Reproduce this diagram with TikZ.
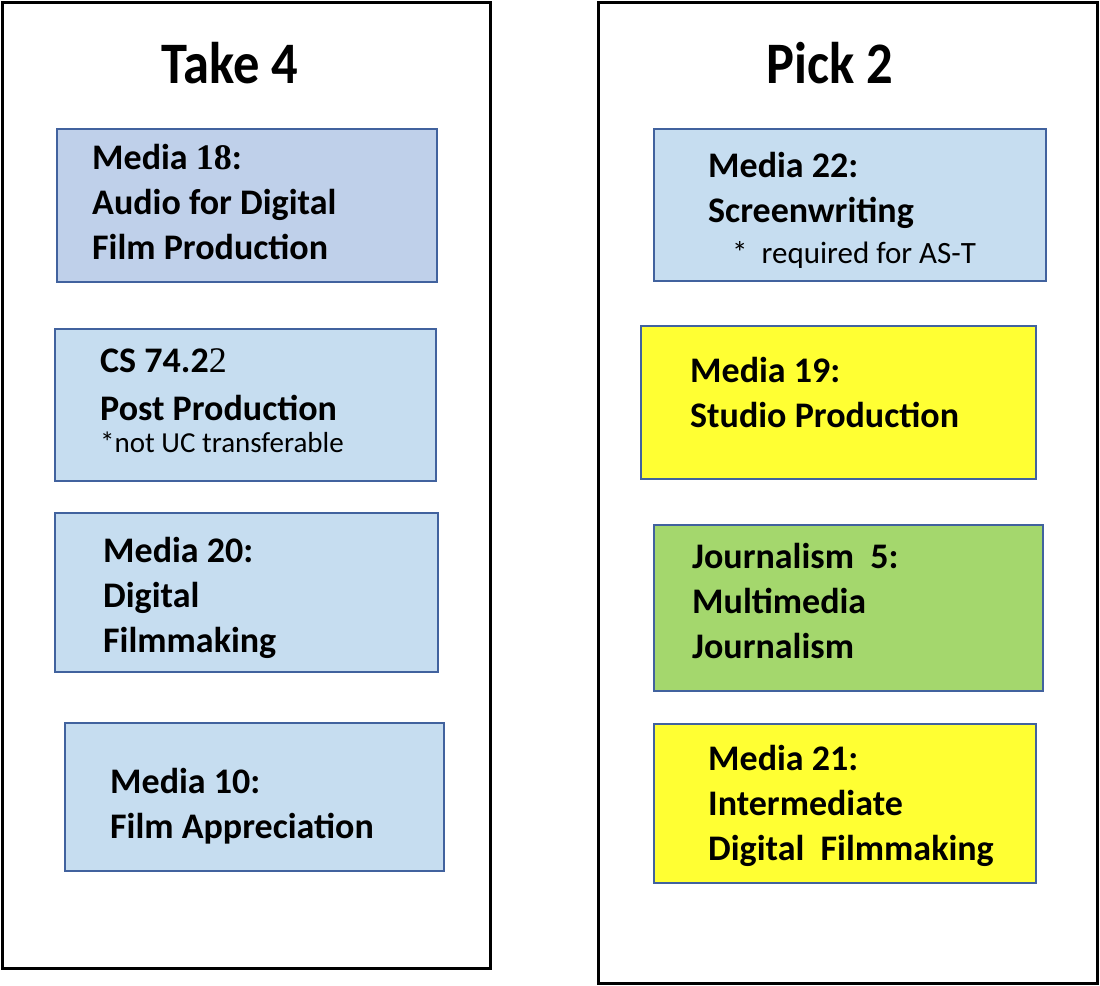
\documentclass[tikz,border=0pt]{standalone}
\usepackage{fontspec}
\setmainfont{Carlito}
\newfontfamily\numfont{Liberation Serif}
\usetikzlibrary{positioning}

\definecolor{boxBorder}{HTML}{41629E}
\definecolor{lavenderFill}{HTML}{BFD0EA}
\definecolor{blueFill}{HTML}{C6DDF0}
\definecolor{yellowFill}{HTML}{FFFF33}
\definecolor{greenFill}{HTML}{A4D76D}
\newcommand{\notefont}{\fontsize{29}{32}\selectfont\mdseries}
\newcommand{\reqfont}{\fontsize{31}{32}\selectfont\mdseries}

\begin{document}
\begin{tikzpicture}
[x=1pt,y=-1pt,
  panelDecorate/.style={draw=black,line width=3pt},%
  boxDecorate/.style={shape=rectangle,draw=boxBorder,line width=2pt,inner sep=0pt},%
  titleDecorate/.style={anchor=base,inner sep=0pt,font=\fontsize{52.5}{60}\selectfont\bfseries},%
  textDecorate/.style={anchor=base west,inner sep=0pt,align=left,font=\fontsize{36}{45}\selectfont\bfseries}]
\useasboundingbox (0,0) rectangle (1100,985);
%% the two columns
\draw[panelDecorate] (2,2) rectangle (490,968);
\draw[panelDecorate] (598,2) rectangle (1097,983);
\node (take) at (230,83) [titleDecorate] {\scalebox{1}[1.12]{Take 4}};
\node (pick) at (830,83) [titleDecorate] {\scalebox{1}[1.12]{Pick 2}};
%% course boxes
\foreach \nodename/\x/\y/\w/\h/\colour in {m18/247/205.5/380/153/lavenderFill,
  cs74/245.5/405/381/152/blueFill, m20/246.5/592.5/383/159/blueFill,
  m10/254.5/797/379/148/blueFill, m22/850/205/392/152/blueFill,
  m19/838.5/402.5/395/153/yellowFill, j5/848.5/608/389/166/greenFill,
  m21/845/803.5/382/159/yellowFill}
{
  \node (\nodename) at (\x,\y) [boxDecorate,fill=\colour,minimum width=\w,minimum height=\h] {};
}
%% course texts (anchored on the baseline of their last line)
\node (m18text) at (92,259) [textDecorate] {Media {\numfont 18}:\\Audio for Digital\\Film Production};
\node (cs74text) at (100,452) [textDecorate] {CS 74.2{\numfont\mdseries 2}\\[3pt]Post Production\\[-13pt]{\notefont *not UC transferable}};
\node (m20text) at (103,652) [textDecorate] {Media 20:\\Digital\\Filmmaking};
\node (m10text) at (110,838) [textDecorate] {Media 10:\\Film Appreciation};
\node (m22text) at (708,263) [textDecorate] {Media 22:\\Screenwriting\\[-4pt]\hspace*{24pt}{\reqfont *\ \ required for AS-T}};
\node (m19text) at (690,427) [textDecorate] {Media 19:\\Studio Production};
\node (j5text) at (692,658) [textDecorate] {Journalism\ \ 5:\\Multimedia\\Journalism};
\node (m21text) at (708,860) [textDecorate] {Media 21:\\Intermediate\\Digital\ \ Filmmaking};
\end{tikzpicture}
\end{document}
